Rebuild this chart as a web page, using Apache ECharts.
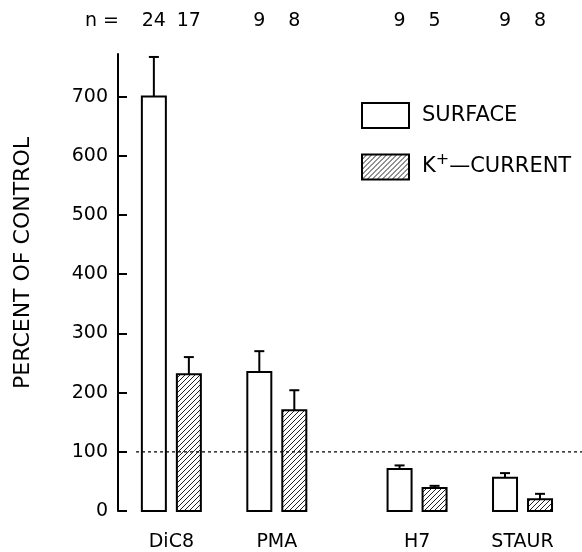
<!DOCTYPE html>
<html>
<head>
<meta charset="utf-8">
<script src="https://cdn.jsdelivr.net/npm/echarts@6/dist/echarts.min.js"></script>
<style>
  html, body { margin: 0; padding: 0; background: #fff; }
  #chart { width: 582px; height: 552px; }
</style>
</head>
<body>
<div id="chart"></div>
<script>
// data
var groups = ['DiC8', 'PMA', 'H7', 'STAUR'];
var groupPos = [1, 2, 3.33, 4.33];
var surface = [700, 235, 71, 56];
var surfaceSem = [67, 35, 6, 8];
var surfaceN = [24, 9, 9, 9];
var kCurrent = [231, 170, 39, 20];
var kCurrentSem = [29, 34, 3.5, 9];
var kCurrentN = [17, 8, 5, 8];
var yTicks = [0, 100, 200, 300, 400, 500, 600, 700];
var controlLevel = 100;

var FONT = 'DejaVu Sans';

// hatch pattern ////
function makeHatch() {
    var s = 5;
    var c = document.createElement('canvas');
    c.width = s; c.height = s;
    var ctx = c.getContext('2d');
    ctx.fillStyle = '#fff';
    ctx.fillRect(0, 0, s, s);
    ctx.strokeStyle = '#222';
    ctx.lineWidth = 1;
    ctx.beginPath();
    ctx.moveTo(0, s); ctx.lineTo(s, 0);
    ctx.moveTo(-1, 1); ctx.lineTo(1, -1);
    ctx.moveTo(s - 1, s + 1); ctx.lineTo(s + 1, s - 1);
    ctx.stroke();
    return { image: c, repeat: 'repeat' };
}
var hatch = makeHatch();

function rows(vals, sem, ns) {
    return groupPos.map(function (p, i) {
        return [p, vals[i], vals[i] + sem[i], ns[i]];
    });
}

function barRenderer(offset, fill) {
    return function (params, api) {
        var x = api.value(0);
        var base = api.coord([x, 0]);
        var top = api.coord([x, api.value(1)]);
        var err = api.coord([x, api.value(2)]);
        var cx = base[0] + offset;
        var w = 24;
        return {
            type: 'group',
            children: [
                { type: 'rect', shape: { x: cx - w / 2, y: top[1], width: w, height: base[1] - top[1] },
                  style: { fill: fill, stroke: '#000', lineWidth: 2 } },
                { type: 'line', shape: { x1: cx, y1: top[1], x2: cx, y2: err[1] },
                  style: { stroke: '#000', lineWidth: 2 } },
                { type: 'line', shape: { x1: cx - 5, y1: err[1], x2: cx + 5, y2: err[1] },
                  style: { stroke: '#000', lineWidth: 2 } },
                { type: 'text', x: cx, y: 21,
                  style: { text: String(api.value(3)), fill: '#000', font: '19px "' + FONT + '"',
                           textAlign: 'center', textVerticalAlign: 'middle' } }
            ]
        };
    };
}

var chart = echarts.init(document.getElementById('chart'));

var option = {
    backgroundColor: '#fff',
    animation: false,
    grid: { left: 118, right: 0, top: 54, bottom: 39 },
    xAxis: {
        type: 'value',
        min: 0.494,
        max: 4.894,
        axisLine: { show: false },
        axisTick: { show: false },
        splitLine: { show: false },
        axisLabel: {
            customValues: groupPos,
            margin: 22,
            color: '#000',
            fontFamily: FONT,
            fontSize: 19,
            formatter: function (v) {
                var best = 0;
                for (var i = 1; i < groupPos.length; i++) {
                    if (Math.abs(groupPos[i] - v) < Math.abs(groupPos[best] - v)) best = i;
                }
                return groups[best];
            }
        }
    },
    yAxis: {
        type: 'value',
        min: 0,
        max: 772,
        axisLine: { show: true, lineStyle: { color: '#000', width: 2 } },
        axisTick: { show: true, inside: true, length: 9, customValues: yTicks,
                    lineStyle: { color: '#000', width: 2 } },
        axisLabel: { customValues: yTicks, margin: 10, color: '#000', fontFamily: FONT, fontSize: 19 },
        splitLine: { show: false }
    },
    legend: {
        orient: 'vertical',
        left: 356,
        top: 97,
        icon: 'rect',
        itemWidth: 47,
        itemHeight: 25,
        itemGap: 23,
        data: ['SURFACE', 'K+-CURRENT'],
        textStyle: {
            color: '#000', fontFamily: FONT, fontSize: 21, padding: [0, 0, 0, 8],
            rich: { sup: { fontSize: 16, fontFamily: FONT, color: '#000', padding: [0, 0, 14, 0] } }
        },
        formatter: function (name) {
            return name === 'K+-CURRENT' ? 'K{sup|+}\u2014CURRENT' : name;
        }
    },
    graphic: [
        { type: 'text', x: 23, y: 263, rotation: Math.PI / 2,
          style: { text: 'PERCENT OF CONTROL', fill: '#000', font: '22px "' + FONT + '"',
                   textAlign: 'center', textVerticalAlign: 'middle' } },
        { type: 'text', x: 85, y: 21,
          style: { text: 'n =', fill: '#000', font: '19px "' + FONT + '"',
                   textAlign: 'left', textVerticalAlign: 'middle' } }
    ],
    series: [
        {
            name: 'SURFACE',
            type: 'custom',
            itemStyle: { color: '#fff', borderColor: '#000', borderWidth: 1.5 },
            renderItem: barRenderer(-17.5, '#fff'),
            data: rows(surface, surfaceSem, surfaceN)
        },
        {
            name: 'K+-CURRENT',
            type: 'custom',
            itemStyle: { color: hatch, borderColor: '#000', borderWidth: 1.5 },
            renderItem: barRenderer(17.5, hatch),
            data: rows(kCurrent, kCurrentSem, kCurrentN)
        },
        {
            name: 'control',
            type: 'line',
            z: 5,
            symbol: 'none',
            silent: true,
            lineStyle: { color: '#000', width: 1.2, type: [3, 3] },
            data: [[0.665, controlLevel], [4.894, controlLevel]]
        }
    ]
};

chart.setOption(option);
</script>
</body>
</html>
